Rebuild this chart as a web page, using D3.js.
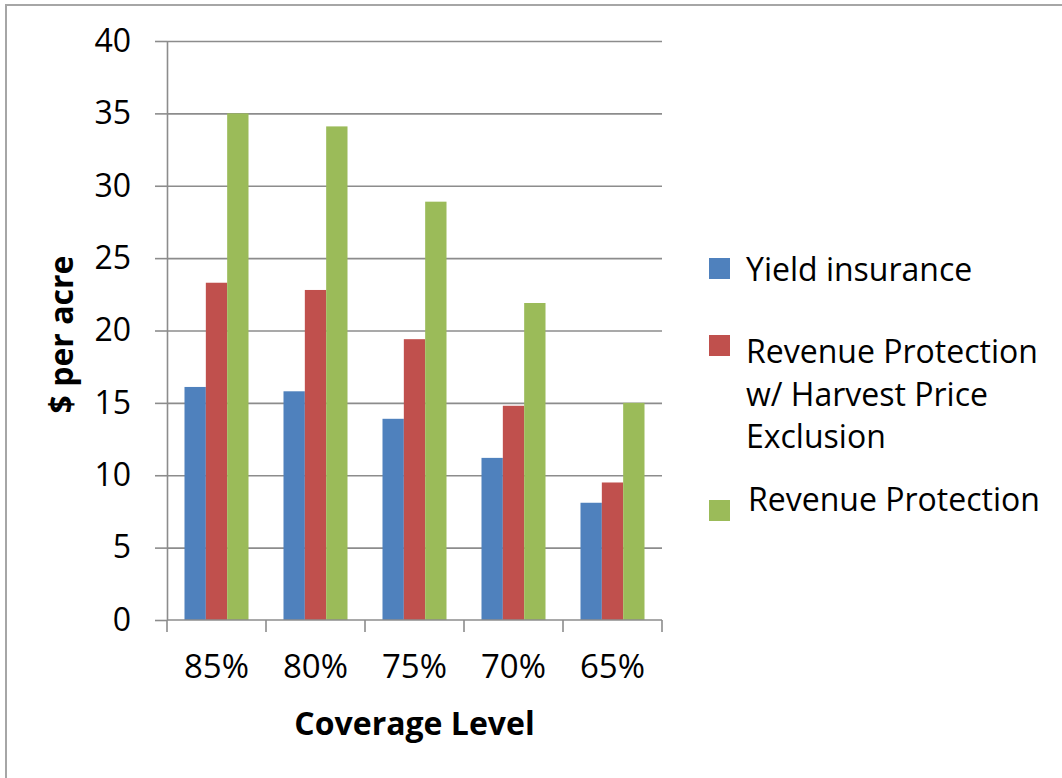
<!DOCTYPE html>
<html>
<head>
<meta charset="utf-8">
<script src="https://cdn.jsdelivr.net/npm/d3@7"></script>
<style>
  body { margin: 0; background: #fff; }
  text { font-family: "Open Sans", sans-serif; fill: #000; }
</style>
</head>
<body>
<div id="chart"></div>
<script>
// data
const levels = ["85%", "80%", "75%", "70%", "65%"];
const seriesNames = ["Yield insurance", "Revenue Protection w/ Harvest Price Exclusion", "Revenue Protection"];
const yieldIns = [16.1, 15.8, 13.9, 11.2, 8.1];
const rpExcl = [23.3, 22.8, 19.4, 14.8, 9.5];
const revProt = [35.0, 34.1, 28.9, 21.9, 15.0];
const yTicks = [0, 5, 10, 15, 20, 25, 30, 35, 40];
// legend lines (wrapped as in the picture)
const legendLines = [["Yield insurance"], ["Revenue Protection", "w/ Harvest Price", "Exclusion"], ["Revenue Protection"]];

const colors = ["#4f81bd", "#c0504d", "#9bbb59"];
const gridColor = "#8c8c8c";

const width = 1062;
const height = 778;
const plot = {left: 167, right: 662, top: 41, bottom: 620};

const svg = d3.select("#chart").append("svg")
    .attr("width", width)
    .attr("height", height);

svg.append("rect")
    .attr("width", width)
    .attr("height", height)
    .style("fill", "#fff");

// frame, only top and left edges show in the picture
svg.append("path")
    .attr("d", "M6,778V5H1062")
    .style("fill", "none")
    .style("stroke", "#a6a6a6")
    .style("stroke-width", 2);

const x = d3.scaleBand()
    .domain(levels)
    .range([plot.left, plot.right]);

const xs = d3.scaleBand()
    .domain(d3.range(seriesNames.length))
    .range([0, x.bandwidth()])
    .paddingOuter(0.82);

const y = d3.scaleLinear()
    .domain([0, 40])
    .range([plot.bottom, plot.top]);

// gridlines
svg.append("g")
    .attr("transform", "translate(" + plot.left + ",0)")
    .call(d3.axisLeft(y).tickValues(yTicks.slice(1)).tickSize(-(plot.right - plot.left)).tickFormat(""))
    .call(g => g.select(".domain").remove())
    .selectAll("line")
    .style("stroke", gridColor)
    .style("stroke-width", 1.6);

// y axis with outside ticks
const yAxis = svg.append("g")
    .attr("transform", "translate(" + plot.left + ",0)")
    .call(d3.axisLeft(y).tickValues(yTicks).tickSize(12).tickPadding(24).tickSizeOuter(0));
yAxis.select(".domain").style("stroke", gridColor).style("stroke-width", 1.6);
yAxis.selectAll("line").style("stroke", gridColor).style("stroke-width", 1.6);
yAxis.selectAll("text")
    .style("font-size", "32px")
    .style("font-family", "'Open Sans', sans-serif");

// bars
const rows = levels.map((lv, i) => ({level: lv, values: [yieldIns[i], rpExcl[i], revProt[i]]}));

const groups = svg.selectAll("g.group")
    .data(rows)
    .enter()
    .append("g")
    .attr("class", "group")
    .attr("transform", d => "translate(" + x(d.level) + ",0)");

groups.selectAll("rect")
    .data(d => d.values)
    .enter()
    .append("rect")
    .attr("x", (d, i) => xs(i))
    .attr("y", d => y(d))
    .attr("width", xs.bandwidth())
    .attr("height", d => y(0) - y(d))
    .style("fill", (d, i) => colors[i]);

// x axis: labels centered, tick marks at category boundaries
const xAxis = svg.append("g")
    .attr("transform", "translate(0," + plot.bottom + ")")
    .call(d3.axisBottom(x).tickSize(0).tickPadding(35));
xAxis.select(".domain").remove();
xAxis.selectAll("text")
    .style("font-size", "33px")
    .style("font-family", "'Open Sans', sans-serif");

const bounds = levels.map(d => x(d)).concat([x.range()[1]]);
svg.append("g")
    .selectAll("line")
    .data(bounds)
    .enter()
    .append("line")
    .attr("x1", d => d)
    .attr("x2", d => d)
    .attr("y1", plot.bottom)
    .attr("y2", plot.bottom + 12)
    .style("stroke", gridColor)
    .style("stroke-width", 1.6);

svg.append("line")
    .attr("x1", plot.left)
    .attr("x2", plot.right)
    .attr("y1", plot.bottom)
    .attr("y2", plot.bottom)
    .style("stroke", gridColor)
    .style("stroke-width", 1.6);

// axis titles
svg.append("text")
    .attr("transform", "translate(73," + ((plot.top + plot.bottom) / 2 + 4) + ") rotate(-90)")
    .attr("text-anchor", "middle")
    .style("font-size", "32px")
    .style("font-weight", "bold")
    .text("$ per acre");

svg.append("text")
    .attr("x", (plot.left + plot.right) / 2)
    .attr("y", 735)
    .attr("text-anchor", "middle")
    .style("font-size", "32px")
    .style("font-weight", "bold")
    .text("Coverage Level");

// legend
const legendPos = [{sq: 258, base: 281}, {sq: 335, base: 363}, {sq: 500, base: 511}];
const legend = svg.append("g");
legendLines.forEach((lines, i) => {
    legend.append("rect")
        .attr("x", 709)
        .attr("y", legendPos[i].sq)
        .attr("width", 21)
        .attr("height", 21)
        .style("fill", colors[i]);
    const t = legend.append("text")
        .attr("x", i == 2 ? 748 : 746)
        .attr("y", legendPos[i].base)
        .style("font-size", "32px");
    lines.forEach((ln, j) => {
        t.append("tspan")
            .attr("x", i == 2 ? 748 : 746)
            .attr("dy", j == 0 ? 0 : 42.5)
            .text(ln);
    });
});
</script>
</body>
</html>
